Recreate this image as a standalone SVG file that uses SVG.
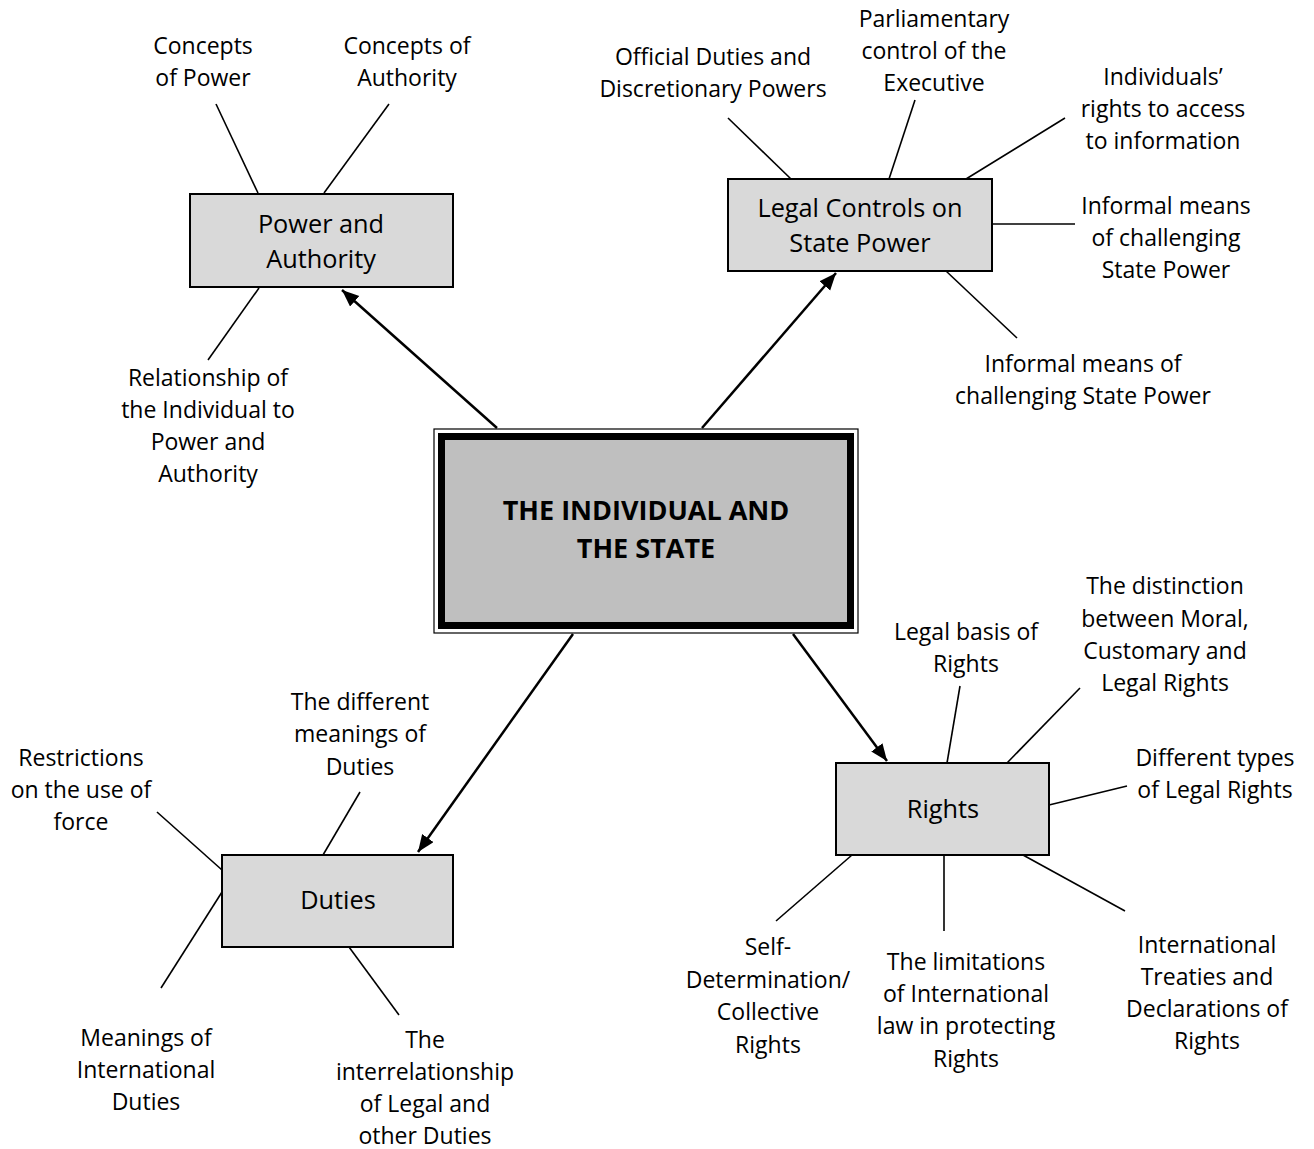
<svg xmlns="http://www.w3.org/2000/svg" width="1314" height="1149" viewBox="0 0 1314 1149">
  <style>
    .box { fill: #d9d9d9; stroke: #000; stroke-width: 2; }
    .lbl { font-family: "Open Sans", "Liberation Sans", sans-serif; font-size: 25.3px; fill: #000; text-anchor: middle; }
    .leaf { font-family: "Open Sans", "Liberation Sans", sans-serif; font-size: 23px; fill: #000; text-anchor: middle; }
    .title { font-family: "Open Sans", "Liberation Sans", sans-serif; font-size: 27px; font-weight: bold; fill: #000; text-anchor: middle; }
    .spoke { stroke: #000; stroke-width: 1.6; fill: none; }
    .arrow { stroke: #000; stroke-width: 2.5; fill: none; marker-end: url(#head); }
  </style>
  <defs>
    <marker id="head" markerUnits="userSpaceOnUse" markerWidth="18" markerHeight="16" refX="17" refY="7" orient="auto">
      <path d="M0,0 L17,7 L0,14 Z" fill="#000"/>
    </marker>
  </defs>
  <rect width="1314" height="1149" fill="#fff"/>

  <g id="connectors">
    <!-- arrows from the central topic -->
    <line class="arrow" x1="497" y1="428" x2="342" y2="290"/>
    <line class="arrow" x1="702" y1="428" x2="836" y2="273"/>
    <line class="arrow" x1="573" y1="634" x2="418" y2="852"/>
    <line class="arrow" x1="793" y1="634" x2="887" y2="761"/>
    <!-- Power and Authority spokes -->
    <line class="spoke" x1="258" y1="193" x2="216" y2="104"/>
    <line class="spoke" x1="324" y1="193" x2="389" y2="104"/>
    <line class="spoke" x1="259" y1="288" x2="208" y2="360"/>
    <!-- Legal Controls spokes -->
    <line class="spoke" x1="791" y1="179" x2="728" y2="118"/>
    <line class="spoke" x1="889" y1="179" x2="915" y2="100"/>
    <line class="spoke" x1="966" y1="179" x2="1065" y2="118"/>
    <line class="spoke" x1="992" y1="224" x2="1075" y2="224"/>
    <line class="spoke" x1="946" y1="271" x2="1017" y2="338"/>
    <!-- Rights spokes -->
    <line class="spoke" x1="947" y1="763" x2="960" y2="686"/>
    <line class="spoke" x1="1007" y1="763" x2="1080" y2="688"/>
    <line class="spoke" x1="1049" y1="805" x2="1127" y2="786"/>
    <line class="spoke" x1="1023" y1="855" x2="1125" y2="911"/>
    <line class="spoke" x1="944" y1="855" x2="944" y2="931"/>
    <line class="spoke" x1="852" y1="855" x2="776" y2="921"/>
    <!-- Duties spokes -->
    <line class="spoke" x1="323" y1="855" x2="360" y2="792"/>
    <line class="spoke" x1="222" y1="870" x2="157" y2="812"/>
    <line class="spoke" x1="222" y1="892" x2="161" y2="988"/>
    <line class="spoke" x1="349" y1="947" x2="399" y2="1015"/>
  </g>

  <g id="centre">
    <rect x="434" y="429" width="424" height="204" fill="#fff" stroke="#000" stroke-width="1.2"/>
    <rect x="441.5" y="436.5" width="409" height="189" fill="#bfbfbf" stroke="#000" stroke-width="7"/>
    <text class="title" x="646" y="520">THE INDIVIDUAL AND</text>
    <text class="title" x="646" y="558">THE STATE</text>
  </g>

  <g id="power-authority">
    <rect class="box" x="190" y="194" width="263" height="93"/>
    <text class="lbl" x="321" y="233">Power and</text>
    <text class="lbl" x="321" y="268">Authority</text>
  </g>

  <g id="legal-controls">
    <rect class="box" x="728" y="179" width="264" height="92"/>
    <text class="lbl" x="860" y="217">Legal Controls on</text>
    <text class="lbl" x="860" y="252">State Power</text>
  </g>

  <g id="rights">
    <rect class="box" x="836" y="763" width="213" height="92"/>
    <text class="lbl" x="943" y="818">Rights</text>
  </g>

  <g id="duties">
    <rect class="box" x="222" y="855" width="231" height="92"/>
    <text class="lbl" x="338" y="909">Duties</text>
  </g>

  <g id="concepts-power">
    <text class="leaf" x="203" y="54">Concepts</text>
    <text class="leaf" x="203" y="86">of Power</text>
  </g>
  <g id="concepts-authority">
    <text class="leaf" x="407" y="54">Concepts of</text>
    <text class="leaf" x="407" y="86">Authority</text>
  </g>
  <g id="relationship">
    <text class="leaf" x="208" y="386">Relationship of</text>
    <text class="leaf" x="208" y="418">the Individual to</text>
    <text class="leaf" x="208" y="450">Power and</text>
    <text class="leaf" x="208" y="482">Authority</text>
  </g>

  <g id="official-duties">
    <text class="leaf" x="713" y="65">Official Duties and</text>
    <text class="leaf" x="713" y="97">Discretionary Powers</text>
  </g>
  <g id="parliamentary">
    <text class="leaf" x="934" y="27">Parliamentary</text>
    <text class="leaf" x="934" y="59">control of the</text>
    <text class="leaf" x="934" y="91">Executive</text>
  </g>
  <g id="access-information">
    <text class="leaf" x="1163" y="85">Individuals’</text>
    <text class="leaf" x="1163" y="117">rights to access</text>
    <text class="leaf" x="1163" y="149">to information</text>
  </g>
  <g id="informal-means-1">
    <text class="leaf" x="1166" y="214">Informal means</text>
    <text class="leaf" x="1166" y="246">of challenging</text>
    <text class="leaf" x="1166" y="278">State Power</text>
  </g>
  <g id="informal-means-2">
    <text class="leaf" x="1083" y="372">Informal means of</text>
    <text class="leaf" x="1083" y="404">challenging State Power</text>
  </g>

  <g id="legal-basis">
    <text class="leaf" x="966" y="640">Legal basis of</text>
    <text class="leaf" x="966" y="672">Rights</text>
  </g>
  <g id="distinction">
    <text class="leaf" x="1165" y="594">The distinction</text>
    <text class="leaf" x="1165" y="627">between Moral,</text>
    <text class="leaf" x="1165" y="659">Customary and</text>
    <text class="leaf" x="1165" y="691">Legal Rights</text>
  </g>
  <g id="types-rights">
    <text class="leaf" x="1215" y="766">Different types</text>
    <text class="leaf" x="1215" y="798">of Legal Rights</text>
  </g>
  <g id="treaties">
    <text class="leaf" x="1207" y="953">International</text>
    <text class="leaf" x="1207" y="985">Treaties and</text>
    <text class="leaf" x="1207" y="1017">Declarations of</text>
    <text class="leaf" x="1207" y="1049">Rights</text>
  </g>
  <g id="limitations">
    <text class="leaf" x="966" y="970">The limitations</text>
    <text class="leaf" x="966" y="1002">of International</text>
    <text class="leaf" x="966" y="1034">law in protecting</text>
    <text class="leaf" x="966" y="1067">Rights</text>
  </g>
  <g id="self-determination">
    <text class="leaf" x="768" y="955">Self-</text>
    <text class="leaf" x="768" y="988">Determination/</text>
    <text class="leaf" x="768" y="1020">Collective</text>
    <text class="leaf" x="768" y="1053">Rights</text>
  </g>

  <g id="meanings-duties">
    <text class="leaf" x="360" y="710">The different</text>
    <text class="leaf" x="360" y="742">meanings of</text>
    <text class="leaf" x="360" y="775">Duties</text>
  </g>
  <g id="restrictions">
    <text class="leaf" x="81" y="766">Restrictions</text>
    <text class="leaf" x="81" y="798">on the use of</text>
    <text class="leaf" x="81" y="830">force</text>
  </g>
  <g id="international-duties">
    <text class="leaf" x="146" y="1046">Meanings of</text>
    <text class="leaf" x="146" y="1078">International</text>
    <text class="leaf" x="146" y="1110">Duties</text>
  </g>
  <g id="interrelationship">
    <text class="leaf" x="425" y="1048">The</text>
    <text class="leaf" x="425" y="1080">interrelationship</text>
    <text class="leaf" x="425" y="1112">of Legal and</text>
    <text class="leaf" x="425" y="1144">other Duties</text>
  </g>
</svg>
